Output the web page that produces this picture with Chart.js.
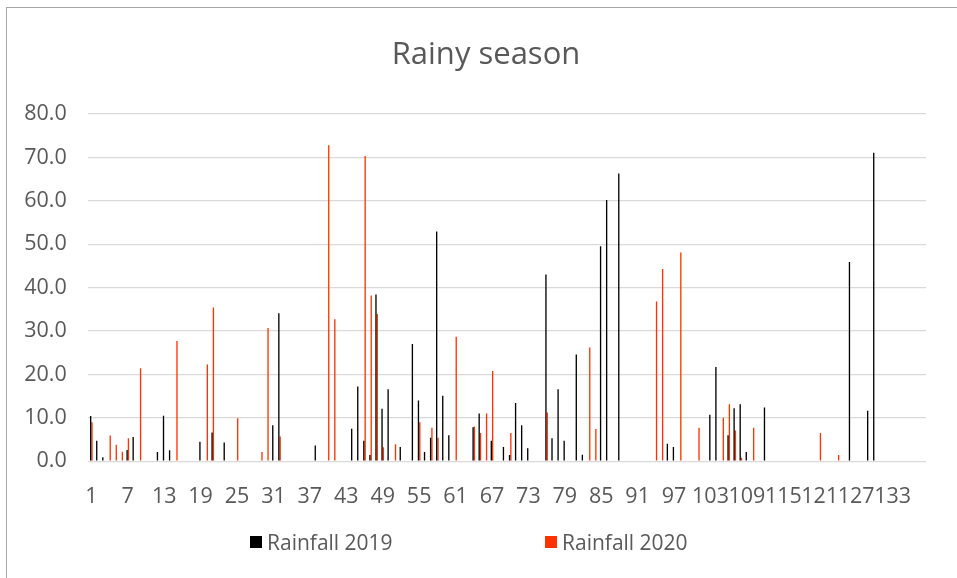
<!DOCTYPE html>
<html>
<head>
<meta charset="utf-8">
<title>Rainy season</title>
<script src="https://cdn.jsdelivr.net/npm/chart.js@4"></script>
<style>
  html, body { margin: 0; padding: 0; background: #fff; }
  #wrap { position: relative; width: 957px; height: 578px; overflow: hidden; }
  #chart { position: absolute; left: 0; top: 0; }
  #frame {
    position: absolute; left: 6px; top: 7px; right: -4px; bottom: -4px;
    border-left: 1px solid #a6a6a6; border-top: 1px solid #a6a6a6;
    pointer-events: none;
  }
  #title {
    position: absolute; left: 386px; width: 200px; top: 30px;
    text-align: center; white-space: nowrap;
    font: 31px "Open Sans", sans-serif; color: #595959; line-height: 44px;
  }
  .legend-item {
    position: absolute; top: 528px; height: 28px;
    display: flex; align-items: center; white-space: nowrap;
    font: 21px "Open Sans", sans-serif; color: #595959;
  }
  .legend-item i { display: inline-block; width: 12px; height: 12px; margin-right: 5px; }
</style>
</head>
<body>
<div id="wrap">
  <canvas id="chart" width="957" height="578"></canvas>
  <div id="frame"></div>
  <div id="title">Rainy season</div>
  <div id="legend"></div>
</div>
<script>
// daily rainfall (mm), days with no rain are left out
const dayCount = 138;
const tickLabels = ["1", "7", "13", "19", "25", "31", "37", "43", "49", "55", "61", "67",
  "73", "79", "85", "91", "97", "103", "109", "115", "121", "127", "133"];

const days2019 = [1, 2, 3, 7, 8, 12, 13, 14, 19, 21, 23, 31, 32, 38, 44, 45, 46, 47, 48, 49, 50,
  52, 54, 55, 56, 57, 58, 59, 60, 64, 65, 67, 69, 70, 71, 72, 73, 76, 77, 78, 79, 81, 82,
  85, 86, 88, 96, 97, 103, 104, 106, 107, 108, 109, 112, 126, 129, 130];
const rain2019 = [10.4, 4.7, 0.9, 2.6, 5.6, 2.1, 10.5, 2.5, 4.5, 6.6, 4.3, 8.3, 34.1, 3.6, 7.5, 17.2, 4.7, 1.4, 38.4, 12.1, 16.6,
  3.3, 27.0, 14.0, 2.1, 5.4, 52.9, 15.1, 6.0, 7.8, 11.0, 4.7, 3.3, 1.4, 13.4, 8.3, 3.0, 43.0, 5.3, 16.6, 4.7, 24.6, 1.5,
  49.5, 60.2, 66.3, 4.0, 3.3, 10.7, 21.7, 6.0, 12.2, 13.1, 2.1, 12.4, 45.9, 11.6, 71.1];

const days2020 = [1, 4, 5, 6, 7, 9, 15, 20, 21, 25, 29, 30, 32, 40, 41, 46, 47, 48, 49, 51,
  55, 57, 58, 61, 64, 65, 66, 67, 70, 76, 83, 84, 94, 95, 98, 101, 105, 106, 107, 108, 110, 121, 124];
const rain2020 = [9.0, 5.9, 3.8, 2.2, 5.3, 21.4, 27.7, 22.3, 35.4, 9.9, 2.1, 30.7, 5.7, 72.8, 32.7, 70.3, 38.2, 33.9, 3.2, 3.9,
  9.0, 7.7, 5.4, 28.7, 8.0, 6.5, 11.0, 20.8, 6.5, 11.2, 26.2, 7.4, 36.8, 44.3, 48.1, 7.7, 10.0, 13.1, 7.1, 0.8, 7.7, 6.5, 1.4];

const seriesNames = ["Rainfall 2019", "Rainfall 2020"];
const seriesColors = ["#000000", "#ff3300"];

const FONT = '"Open Sans", sans-serif';
const TEXT = "#595959";

const days = Array.from({ length: dayCount }, (_, i) => String(i + 1));

function spread(dayList, values) {
  const out = new Array(dayCount).fill(null);
  dayList.forEach((d, i) => { out[d - 1] = values[i]; });
  return out;
}

const ctx = document.getElementById("chart").getContext("2d");
const chart = new Chart(ctx, {
  type: "bar",
  data: {
    labels: days,
    datasets: [
      { label: seriesNames[0], data: spread(days2019, rain2019), backgroundColor: seriesColors[0],
        categoryPercentage: 0.44, barPercentage: 1 },
      { label: seriesNames[1], data: spread(days2020, rain2020), backgroundColor: seriesColors[1],
        categoryPercentage: 0.44, barPercentage: 1 }
    ]
  },
  options: {
    responsive: false,
    animation: false,
    layout: { padding: { left: 6, right: 31, top: 114, bottom: 53 } },
    plugins: {
      legend: { display: false },
      tooltip: { enabled: false },
      title: { display: false }
    },
    scales: {
      x: {
        grid: { display: false },
        border: { display: false },
        ticks: {
          autoSkip: false,
          maxRotation: 0,
          minRotation: 0,
          padding: 15,
          color: TEXT,
          font: { family: FONT, size: 21.5 },
          callback: function (value) {
            const lbl = this.getLabelForValue(value);
            return tickLabels.includes(lbl) ? lbl : "";
          }
        }
      },
      y: {
        min: 0,
        max: 80,
        border: { display: false },
        grid: { color: "#d9d9d9", lineWidth: 1.3, drawTicks: false },
        ticks: {
          stepSize: 10,
          padding: 21.5,
          color: TEXT,
          font: { family: FONT, size: 21.5 },
          callback: (v) => v.toFixed(1)
        },
        afterFit: (s) => { s.width = 82.3; }
      }
    }
  }
});

// legend under the plot, spaced like the original sheet
const legend = document.getElementById("legend");
const legendLeft = [250, 545];
seriesNames.forEach((name, i) => {
  const item = document.createElement("div");
  item.className = "legend-item";
  item.style.left = legendLeft[i] + "px";
  item.innerHTML = `<i style="background:${seriesColors[i]}"></i>${name}`;
  legend.appendChild(item);
});
</script>
</body>
</html>
